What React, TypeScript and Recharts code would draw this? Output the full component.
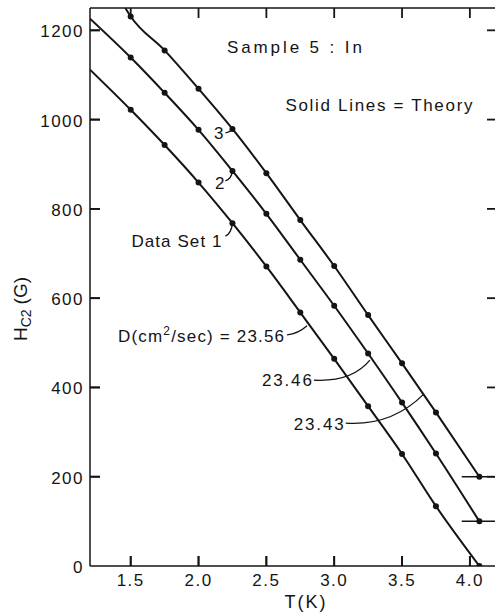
import {
  ComposedChart, Line, Scatter, XAxis, YAxis, ReferenceLine, ReferenceDot, Label,
} from 'recharts'

const FONT = '"Liberation Sans", Arial, Helvetica, sans-serif'
const INK = '#141414'

// measured Hc2 points; set 2 is shifted up 100 G and set 3 up 200 G
const temps = [1.5, 1.75, 2.0, 2.25, 2.5, 2.75, 3.0, 3.25, 3.5, 3.75, 4.07]
const set1 = [1022, 943, 859, 768, 671, 568, 464, 358, 251, 134, 0]
const set2 = [1139, 1060, 977, 885, 789, 686, 583, 476, 366, 252, 100]
const set3 = [1231, 1155, 1069, 979, 880, 775, 672, 562, 454, 344, 200]

// where each theory curve enters the frame
const curveStartT = [1.2, 1.2, 1.46]
const curveStartH = [1112, 1226, 1250]

// zero level of the shifted sets
const baseOffsets = [100, 200]

const T_MIN = 1.2
const T_MAX = 4.2
const H_MAX = 1250

const xTicks = [1.5, 2.0, 2.5, 3.0, 3.5, 4.0]
const yTicks = [0, 200, 400, 600, 800, 1000, 1200]
const dValues = ['23.56', '23.46', '23.43']

const sets = [set1, set2, set3]
const points = sets.map((s) => temps.map((t, i) => ({ t, h: s[i] })))
const curves = sets.map((_, k) => [{ t: curveStartT[k], h: curveStartH[k] }, ...points[k]])

// inward tick marks on all four sides of the frame
const TICK = 10
const frameTicks = [
  { data: xTicks.map((t) => ({ t, h: 0 })), dx: 0, dy: -TICK },
  { data: xTicks.map((t) => ({ t, h: H_MAX })), dx: 0, dy: TICK },
  { data: yTicks.slice(1).map((h) => ({ t: T_MIN, h })), dx: TICK, dy: 0 },
  { data: yTicks.slice(1).map((h) => ({ t: T_MAX, h })), dx: -TICK, dy: 0 },
]
// half a tick length in data units, for marks centred just inside the left and bottom edges
const HALF_T = 0.037
const HALF_H = 11.2

const txt = { fontFamily: FONT, fill: INK, fontSize: 17 }

// eslint-disable-next-line @typescript-eslint/no-explicit-any
function BottomTick({ x, y, payload }: any) {
  return (
    <text x={x} y={y + 20} textAnchor="middle" {...txt} letterSpacing={1.5}>
      {payload.value.toFixed(1)}
    </text>
  )
}

// eslint-disable-next-line @typescript-eslint/no-explicit-any
function LeftTick({ x, y, payload }: any) {
  return (
    <text x={x - 6} y={y + 7} textAnchor="end" {...txt} letterSpacing={1.5}>
      {payload.value}
    </text>
  )
}

function tickMark(dx: number, dy: number) {
  // eslint-disable-next-line @typescript-eslint/no-explicit-any
  return ({ cx, cy }: any) => (
    <line x1={cx} y1={cy} x2={cx + dx} y2={cy + dy} stroke={INK} strokeWidth={1.8} />
  )
}

// tick drawn symmetrically about its anchor
function centredMark(horizontal: boolean) {
  const h = TICK / 2
  // eslint-disable-next-line @typescript-eslint/no-explicit-any
  return ({ cx, cy }: any) =>
    horizontal
      ? <line x1={cx - h} y1={cy} x2={cx + h} y2={cy} stroke={INK} strokeWidth={1.8} />
      : <line x1={cx} y1={cy - h} x2={cx} y2={cy + h} stroke={INK} strokeWidth={1.8} />
}

// eslint-disable-next-line @typescript-eslint/no-explicit-any
const Dot = ({ cx, cy }: any) => <circle cx={cx} cy={cy} r={3} fill={INK} />

// label with a hooked leader ending at the anchor point
function note(
  content: React.ReactNode, dx: number, dy: number, width: number, leader: (cx: number, cy: number) => string,
) {
  // eslint-disable-next-line @typescript-eslint/no-explicit-any
  return ({ cx, cy }: any) => (
    <g>
      <path d={leader(cx, cy)} fill="none" stroke={INK} strokeWidth={1.3} />
      <text x={cx + dx} y={cy + dy} textAnchor="end" {...txt} textLength={width} lengthAdjust="spacing">
        {content}
      </text>
    </g>
  )
}

function title(text: string, width: number) {
  // eslint-disable-next-line @typescript-eslint/no-explicit-any
  return ({ cx, cy }: any) => (
    <text x={cx} y={cy} textAnchor="middle" {...txt} textLength={width} lengthAdjust="spacing">
      {text}
    </text>
  )
}

export default function App() {
  return (
    <div style={{ position: 'fixed', left: 0, top: 0, width: 495, height: 613, overflow: 'hidden', background: '#fff' }}>
      <ComposedChart width={497} height={613} margin={{ top: 8, right: 0, bottom: 0, left: 0 }}>
        <XAxis
          dataKey="t" type="number" domain={[T_MIN, T_MAX]} allowDataOverflow ticks={xTicks} interval={0}
          height={47} tickSize={0} tickMargin={0} tickLine={false} tick={<BottomTick />}
          axisLine={false}
        >
          <Label
            // eslint-disable-next-line @typescript-eslint/no-explicit-any
            content={({ viewBox }: any) => (
              <text x={viewBox.x + 216} y={viewBox.y + 42} textAnchor="middle" {...txt} fontSize={18} letterSpacing={2}>
                T(K)
              </text>
            )}
          />
        </XAxis>
        <YAxis
          dataKey="h" type="number" domain={[0, H_MAX]} allowDataOverflow ticks={yTicks} interval={0}
          width={90} tickSize={0} tickMargin={0} tickLine={false} tick={<LeftTick />}
          axisLine={false}
        >
          <Label
            // eslint-disable-next-line @typescript-eslint/no-explicit-any
            content={({ viewBox }: any) => {
              const cx = viewBox.x + 27
              const cy = viewBox.y + viewBox.height / 2 + 22
              return (
                <text transform={`translate(${cx},${cy}) rotate(-90)`} textAnchor="middle" {...txt} fontSize={19}>
                  H
                  <tspan fontSize={14} dy={4}>C2</tspan>
                  <tspan dy={-4} dx={5}>(G)</tspan>
                </text>
              )
            }}
          />
        </YAxis>

        {/* frame around the plot */}
        <ReferenceLine x={T_MIN} stroke={INK} strokeWidth={1.5} ifOverflow="visible" />
        <ReferenceLine y={0} stroke={INK} strokeWidth={1.5} ifOverflow="visible" />
        <ReferenceLine y={H_MAX} stroke={INK} strokeWidth={1.5} ifOverflow="visible" />
        <ReferenceLine x={T_MAX} stroke={INK} strokeWidth={1.5} ifOverflow="visible" />

        {frameTicks.map((f, k) => (
          <Scatter
            key={`frame${k}`}
            data={f.data}
            dataKey="h"
            shape={tickMark(f.dx, f.dy)}
            isAnimationActive={false}
          />
        ))}
        {xTicks.map((t) => (
          <ReferenceDot key={`bt${t}`} x={t} y={HALF_H} r={0} ifOverflow="visible" shape={centredMark(false)} />
        ))}
        {yTicks.slice(1).map((v) => (
          <ReferenceDot key={`lt${v}`} x={T_MIN + HALF_T} y={v} r={0} ifOverflow="visible" shape={centredMark(true)} />
        ))}

        {baseOffsets.map((b) => (
          <ReferenceLine
            key={b}
            segment={[{ x: 3.94, y: b }, { x: T_MAX, y: b }]}
            stroke={INK}
            strokeWidth={1.5}
            ifOverflow="visible"
          />
        ))}

        {curves.map((c, k) => (
          <Line
            key={`curve${k}`}
            data={c}
            dataKey="h"
            type="monotone"
            stroke={INK}
            strokeWidth={2}
            dot={false}
            activeDot={false}
            isAnimationActive={false}
          />
        ))}
        {points.map((p, k) => (
          <Scatter key={`pts${k}`} data={p} dataKey="h" shape={<Dot />} isAnimationActive={false} />
        ))}

        <ReferenceDot
          x={2.25} y={979} r={0}
          shape={note('3', -9, 10, 9, (x, y) => `M${x - 7},${y + 4} Q${x - 2},${y + 3} ${x},${y}`)}
        />
        <ReferenceDot
          x={2.25} y={885} r={0}
          shape={note('2', -8, 18.5, 10, (x, y) => `M${x - 7},${y + 10} Q${x - 1},${y + 8} ${x},${y}`)}
        />
        <ReferenceDot
          x={2.25} y={768} r={0}
          shape={note('Data Set 1', -11, 23.4, 90, (x, y) => `M${x - 7},${y + 13} Q${x - 1},${y + 10} ${x},${y}`)}
        />
        <ReferenceDot
          x={2.8} y={538} r={0}
          shape={note(
            <>
              D(cm<tspan fontSize={12} dy={-7}>2</tspan>
              <tspan dy={7}>/sec) = {dValues[0]}</tspan>
            </>,
            -23, 16.4, 166,
            (x, y) => `M${x - 20},${y + 9} Q${x - 9},${y + 8} ${x},${y}`,
          )}
        />
        <ReferenceDot
          x={3.263} y={461} r={0}
          shape={note(dValues[1], -58, 25.7, 50, (x, y) => `M${x - 56},${y + 20} Q${x - 18},${y + 22} ${x},${y}`)}
        />
        <ReferenceDot
          x={3.66} y={385} r={0}
          shape={note(dValues[2], -80, 35.9, 50, (x, y) => `M${x - 78},${y + 29} Q${x - 32},${y + 32} ${x},${y}`)}
        />

        <ReferenceDot x={2.707} y={1149} r={0} shape={title('Sample 5 : In', 135)} />
        <ReferenceDot x={3.33} y={1019} r={0} shape={title('Solid Lines = Theory', 187)} />
      </ComposedChart>
    </div>
  )
}
